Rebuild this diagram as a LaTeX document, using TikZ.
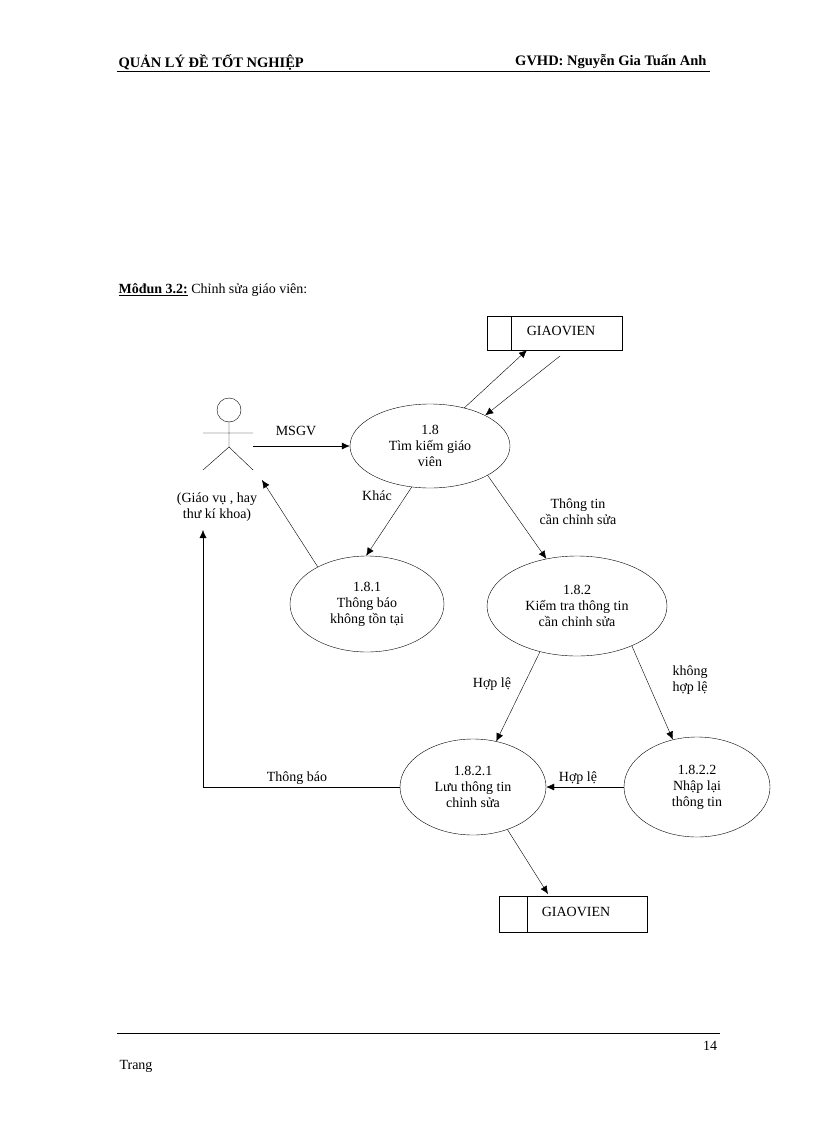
\documentclass[tikz,border=0pt]{standalone}
\usepackage{fontspec}
\setmainfont{Liberation Serif}
\usetikzlibrary{arrows.meta,shapes.geometric}
\begin{document}
\begin{tikzpicture}[x=1pt,y=-1pt,
  every node/.style={font=\fontsize{14}{16}\selectfont},
  proc/.style={draw,ellipse,thin,align=center,inner sep=0pt},
  flow/.style={-{Latex[length=8pt,width=7pt]},thin},
  lbl/.style={align=center,inner sep=1pt}]
\useasboundingbox (0,0) rectangle (816,1123);
\node[anchor=west,font=\fontsize{14.5}{16}\selectfont\bfseries] (h1) at (115,62) {QUẢN LÝ ĐỀ TỐT NGHIỆP};
\node[anchor=east,font=\fontsize{14.5}{16}\selectfont\bfseries] (h2) at (710,62) {GVHD: Nguyễn Gia Tuấn Anh};
\draw[thin] (117,71) -- (710,71);
\node[anchor=west] (title) at (115,290) {\textbf{\underline{Môđun 3.2:}} Chỉnh sửa giáo viên:};
% stores
\draw[thin] (487,316) rectangle (622,350); \draw[thin] (511,316) -- (511,350);
\node (s1) at (561,331) {GIAOVIEN};
\coordinate (s1a) at (527,350); \coordinate (s1b) at (560,356);
\draw[thin] (499,896) rectangle (647,932); \draw[thin] (527,896) -- (527,932);
\node (s2) at (576,912) {GIAOVIEN};
\coordinate (s2a) at (548,894);
% actor
\draw[thin] (229,410) circle (12);
\draw[thin] (229,422) -- (229,447) (203,433) -- (253,433) (203,470) -- (229,447) -- (253,470);
\node[lbl] (act) at (217,507) {(Giáo vụ , hay\\thư kí khoa)};
\coordinate (aMS) at (253,446); \coordinate (aIn) at (262,480); \coordinate (aTB) at (203,530);
% processes
\node[proc,minimum width=160,minimum height=84] (p18) at (430,446) {1.8\\Tìm kiếm giáo\\viên};
\node[proc,minimum width=154,minimum height=96] (p181) at (367,604) {1.8.1\\Thông báo\\không tồn tại};
\node[proc,minimum width=180,minimum height=100] (p182) at (577,606) {1.8.2\\Kiểm tra thông tin\\cần chỉnh sửa};
\node[proc,minimum width=146,minimum height=96] (p1821) at (473,787) {1.8.2.1\\Lưu thông tin\\chỉnh sửa};
\node[proc,minimum width=146,minimum height=100] (p1822) at (697,787) {1.8.2.2\\Nhập lại\\thông tin};
% flows
\draw[flow] (aMS) -- (p18.west);
\node[lbl] (lms) at (296,431) {MSGV};
\draw[flow] (p18.48) -- (s1a);
\draw[flow] (s1b) -- (p18.29);
\draw[flow] (p18.-114) -- (p181.91);
\node[lbl] (lkh) at (377,496) {Khác};
\draw[flow] (p181.143) -- (aIn);
\draw[flow] (p18.-27) -- (p182.123);
\node[lbl] (ltt) at (578,512) {Thông tin\\cần chỉnh sửa};
\draw[flow] (p182.-129) -- (p1821.63);
\node[lbl] (lhl1) at (492,684) {Hợp lệ};
\draw[flow] (p182.-36) -- (p1822.117);
\node[lbl] (lkhl) at (690,680) {không\\hợp lệ};
\draw[flow] (p1822.west) -- (p1821.east);
\node[lbl] (lhl2) at (578,778) {Hợp lệ};
\draw[flow] (p1821.west) -- (203,787) -- (aTB);
\node[lbl] (ltb) at (297,778) {Thông báo};
\draw[flow] (p1821.-51) -- (s2a);
% footer
\draw[thin] (117,1033) -- (720,1033);
\node (pg) at (710,1046) {14};
\node (tr) at (136,1066) {Trang};
\end{tikzpicture}
\end{document}
